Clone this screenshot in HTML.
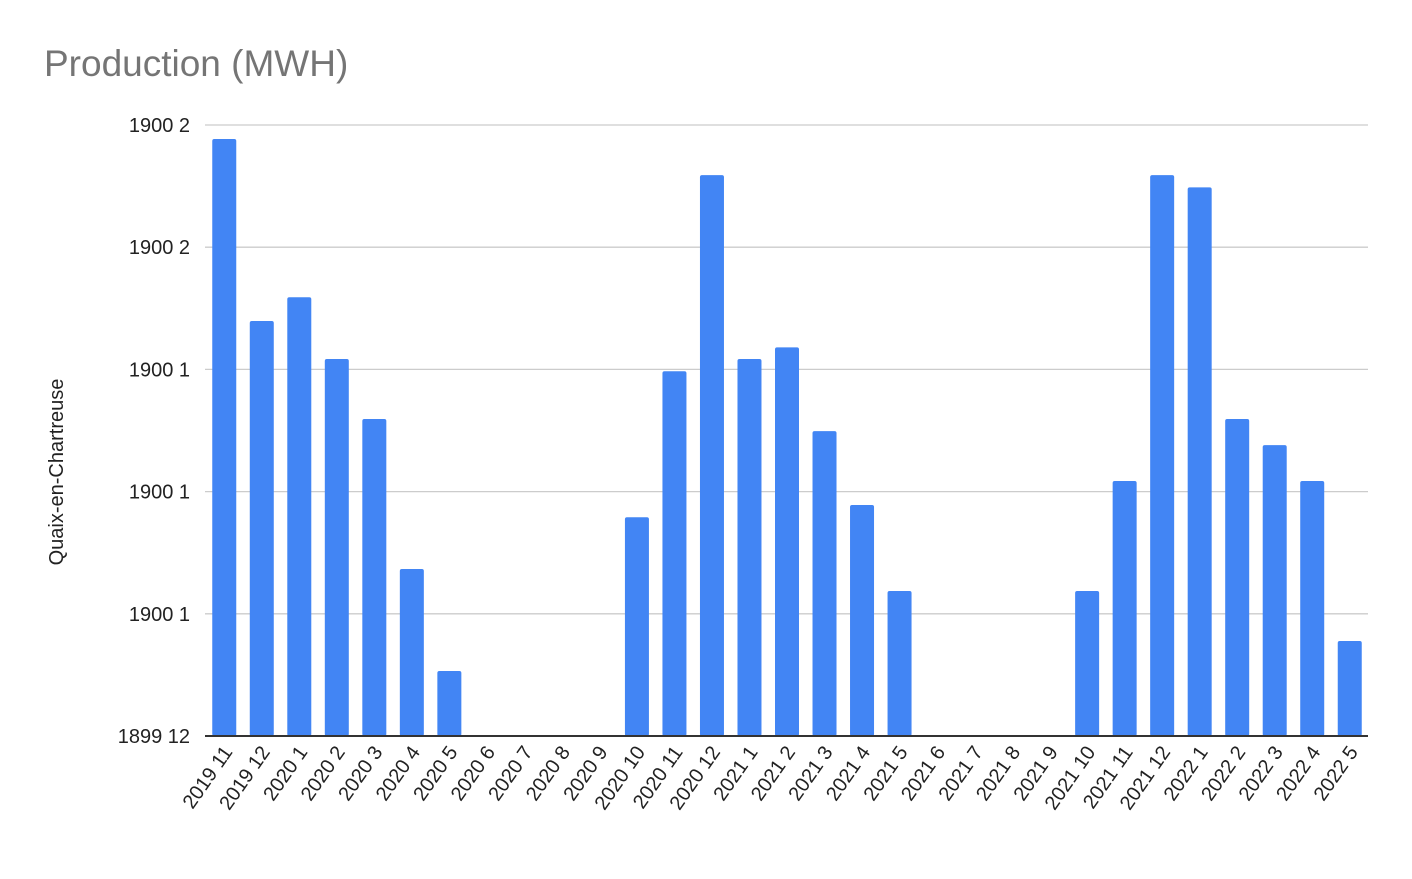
<!DOCTYPE html>
<html><head><meta charset="utf-8">
<style>
html,body{margin:0;padding:0;background:#fff;}
body{width:1412px;height:874px;overflow:hidden;font-family:"Liberation Sans",sans-serif;}
</style></head>
<body>
<svg id="chart" width="1412" height="874" xmlns="http://www.w3.org/2000/svg" font-family="Liberation Sans, sans-serif">
<text x="44" y="76" font-size="37" fill="#757575">Production (MWH)</text>
<text transform="translate(63,472) rotate(-90)" text-anchor="middle" font-size="20" fill="#222">Quaix-en-Chartreuse</text>
<g id="grid"></g><g id="bars"></g><g id="xlabels"></g>
</svg>
<script>
const categories=["2019 11","2019 12","2020 1","2020 2","2020 3","2020 4","2020 5","2020 6","2020 7","2020 8","2020 9","2020 10","2020 11","2020 12","2021 1","2021 2","2021 3","2021 4","2021 5","2021 6","2021 7","2021 8","2021 9","2021 10","2021 11","2021 12","2022 1","2022 2","2022 3","2022 4","2022 5"];
const values=[4.885,3.396,3.59,3.085,2.594,1.367,0.532,0,0,0,0,1.79,2.985,4.59,3.085,3.18,2.495,1.89,1.187,0,0,0,0,1.187,2.087,4.59,4.49,2.594,2.38,2.087,0.777];
const tickValues=[0,1,2,3,4,5];
const tickLabels=["1899 12","1900 1","1900 1","1900 1","1900 2","1900 2"];
const NS="http://www.w3.org/2000/svg";
const x0=205,x1=1368,yBottom=736,yTop=125,yMax=5;
const step=(x1-x0)/categories.length;
function xScale(i){return x0+step*(i+0.5)+0.5;}
function yScale(v){return yBottom-(v/yMax)*(yBottom-yTop);}
const grid=document.getElementById('grid'),bars=document.getElementById('bars'),xl=document.getElementById('xlabels');
tickValues.forEach((t,i)=>{
  const y=yScale(t);
  const ln=document.createElementNS(NS,'line');
  
  
  ln.setAttribute('x1',x0);ln.setAttribute('x2',x1);ln.setAttribute('y1',y);ln.setAttribute('y2',y);
  ln.setAttribute('stroke',t===0?'#333':'#ccc');ln.setAttribute('stroke-width',t===0?2:1.3);
  grid.appendChild(ln);
  const tx=document.createElementNS(NS,'text');
  
  
  tx.setAttribute('x',190);tx.setAttribute('y',y+7);tx.setAttribute('text-anchor','end');
  tx.setAttribute('font-size','20');tx.setAttribute('fill','#222');
  tx.textContent=tickLabels[i];grid.appendChild(tx);
});
categories.forEach((c,i)=>{
  const cx=xScale(i),v=values[i];
  if(v>0){
    const r=document.createElementNS(NS,'rect');
    
    
    r.setAttribute('x',cx-12);r.setAttribute('width',24);
    r.setAttribute('y',yScale(v));r.setAttribute('height',yBottom-yScale(v));
    r.setAttribute('rx',2);r.setAttribute('fill','#4285f4');
    bars.appendChild(r);
  }
  const t=document.createElementNS(NS,'text');
  
  
  t.setAttribute('text-anchor','end');t.setAttribute('font-size','20');t.setAttribute('fill','#222');
  t.setAttribute('transform','translate('+(cx+9)+',752) rotate(-55)');
  t.textContent=c;xl.appendChild(t);
});
// redraw baseline on top
const base=document.createElementNS(NS,'line');


base.setAttribute('x1',x0);base.setAttribute('x2',x1);base.setAttribute('y1',yBottom);base.setAttribute('y2',yBottom);
base.setAttribute('stroke','#333');base.setAttribute('stroke-width',2);
bars.appendChild(base);
</script>
</body></html>
